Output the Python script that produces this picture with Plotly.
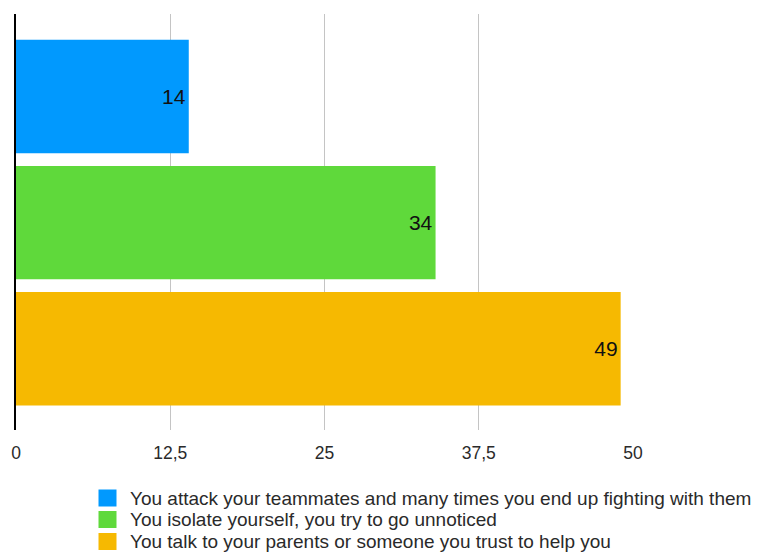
import plotly.graph_objects as go

# Survey answers and their counts
answers = [
    "You attack your teammates and many times you end up fighting with them",
    "You isolate yourself, you try to go unnoticed",
    "You talk to your parents or someone you trust to help you",
]
counts = [14, 34, 49]
colors = ["#0199FE", "#5FD93B", "#F6B901"]

tick_vals = [0, 12.5, 25, 37.5, 50]
tick_labels = ["0", "12,5", "25", "37,5", "50"]

FONT = "Liberation Sans, Arial, Helvetica, sans-serif"

W, H = 757, 552
M_L, M_R, M_T, M_B = 16, 124, 14, 122
PLOT_W = W - M_L - M_R
PLOT_H = H - M_T - M_B


def px_x(px):
    """Horizontal pixel -> paper fraction."""
    return (px - M_L) / PLOT_W


def px_y(py):
    """Vertical pixel (from top) -> paper fraction."""
    return (H - M_B - py) / PLOT_H


fig = go.Figure()

for i, (val, col) in enumerate(zip(counts, colors)):
    # one bar per answer, each on its own row
    fig.add_trace(go.Bar(
        x=[val], y=[i], orientation="h", width=0.9,
        marker=dict(color=col, line=dict(width=0)),
        text=[val], texttemplate="%{text}",
        textposition="inside", insidetextanchor="end",
        textangle=0, constraintext="none",
        textfont=dict(family=FONT, size=21, color="#111"),
        showlegend=False, hoverinfo="x",
    ))

# key below the chart: coloured square + answer text, one row per answer
key_rows = [498, 519.5, 541.5]
shapes, annotations = [], []
for name, col, cy in zip(answers, colors, key_rows):
    shapes.append(dict(
        type="rect", xref="paper", yref="paper",
        x0=px_x(98.5), x1=px_x(116.5), y0=px_y(cy + 8.5), y1=px_y(cy - 8.5),
        fillcolor=col, line=dict(width=0), layer="above",
    ))
    annotations.append(dict(
        text=name, xref="paper", yref="paper",
        x=px_x(128), y=px_y(cy), xanchor="left", yanchor="middle",
        showarrow=False, font=dict(family=FONT, size=19, color="#2a2a2a"),
    ))

fig.update_layout(
    width=W, height=H,
    margin=dict(l=M_L, r=M_R, t=M_T, b=M_B, autoexpand=False),
    paper_bgcolor="white", plot_bgcolor="white",
    barmode="overlay", showlegend=False,
    font=dict(family=FONT, size=14, color="#2a2a2a"),
    xaxis=dict(
        range=[0, 50], tickvals=tick_vals, ticktext=tick_labels,
        showgrid=True, gridcolor="#C4C4C4", gridwidth=1,
        zeroline=False, showline=False, ticks="",
        tickfont=dict(size=17.5, color="#2a2a2a"),
        ticklabelstandoff=10,
        fixedrange=True,
    ),
    yaxis=dict(
        range=[2.645, -0.655], showticklabels=False, showgrid=False,
        zeroline=False, showline=True, linecolor="black", linewidth=1.5,
        ticks="", fixedrange=True,
    ),
    shapes=shapes,
    annotations=annotations,
)

fig.write_html("out.html")
